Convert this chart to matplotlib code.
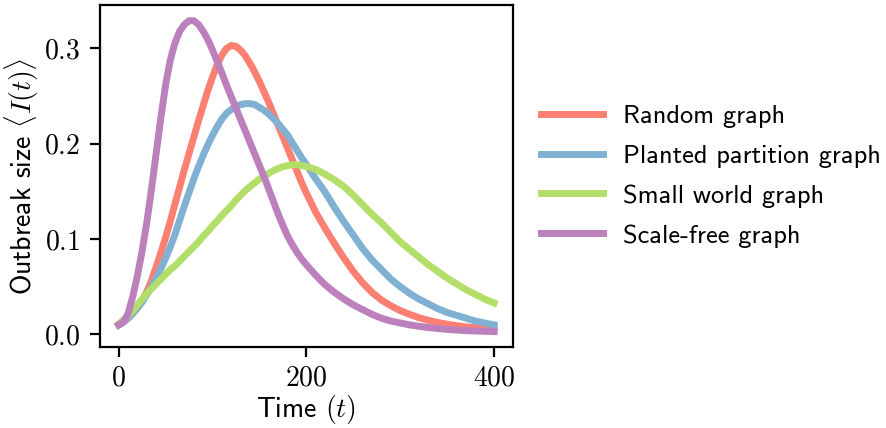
import numpy as np
import matplotlib
matplotlib.use("Agg")
import matplotlib.pyplot as plt
from matplotlib.ticker import FormatStrFormatter

plt.rcParams['font.family'] = ['cmss10', 'DejaVu Sans']
plt.rcParams['mathtext.fontset'] = 'cm'
plt.rcParams['axes.unicode_minus'] = False
plt.rcParams['font.size'] = 10

# time points
t = [0, 5, 10, 15, 20, 25, 30, 35, 40, 45, 50, 55, 60, 65, 70, 75, 80, 85,
     90, 95, 100, 105, 110, 115, 120, 125, 130, 135, 140, 145, 150, 155,
     160, 165, 170, 175, 180, 185, 190, 195, 200, 210, 220, 230, 240, 250,
     260, 270, 280, 290, 300, 310, 320, 330, 340, 350, 360, 370, 380, 390,
     400]

random_graph = [0.010, 0.013, 0.017, 0.022, 0.028, 0.036, 0.045, 0.057,
                0.071, 0.086, 0.102, 0.119, 0.137, 0.155, 0.173, 0.190,
                0.207, 0.224, 0.240, 0.256, 0.270, 0.283, 0.293, 0.300,
                0.303, 0.302, 0.298, 0.292, 0.284, 0.275, 0.265, 0.254,
                0.243, 0.231, 0.219, 0.207, 0.195, 0.183, 0.171, 0.159,
                0.148, 0.128, 0.111, 0.095, 0.080, 0.066, 0.054, 0.044,
                0.036, 0.030, 0.025, 0.021, 0.0175, 0.0148, 0.0125, 0.0107,
                0.0092, 0.008, 0.007, 0.0065, 0.006]

planted_partition = [0.010, 0.013, 0.017, 0.022, 0.028, 0.034, 0.042, 0.050,
                     0.059, 0.069, 0.080, 0.092, 0.105, 0.120, 0.135, 0.149,
                     0.163, 0.176, 0.188, 0.199, 0.209, 0.218, 0.226, 0.232,
                     0.236, 0.239, 0.241, 0.242, 0.242, 0.241, 0.238, 0.235,
                     0.231, 0.226, 0.221, 0.215, 0.209, 0.201, 0.193, 0.185,
                     0.178, 0.163, 0.149, 0.133, 0.118, 0.104, 0.090, 0.078,
                     0.068, 0.058, 0.050, 0.043, 0.037, 0.032, 0.027, 0.023,
                     0.020, 0.017, 0.014, 0.012, 0.010]

small_world = [0.011, 0.015, 0.020, 0.025, 0.031, 0.037, 0.043, 0.048,
               0.053, 0.058, 0.063, 0.068, 0.072, 0.077, 0.082, 0.087,
               0.092, 0.097, 0.103, 0.108, 0.114, 0.119, 0.125, 0.130,
               0.135, 0.141, 0.146, 0.151, 0.155, 0.159, 0.163, 0.166,
               0.169, 0.172, 0.174, 0.176, 0.177, 0.178, 0.178, 0.177,
               0.176, 0.173, 0.168, 0.162, 0.155, 0.146, 0.136, 0.126,
               0.117, 0.107, 0.097, 0.089, 0.081, 0.073, 0.066, 0.059,
               0.053, 0.047, 0.042, 0.037, 0.033]

scale_free = [0.010, 0.013, 0.022, 0.040, 0.062, 0.088, 0.118, 0.153,
              0.191, 0.228, 0.262, 0.288, 0.306, 0.318, 0.325, 0.329,
              0.329, 0.325, 0.318, 0.309, 0.298, 0.286, 0.274, 0.261,
              0.249, 0.237, 0.225, 0.213, 0.201, 0.189, 0.177, 0.165,
              0.152, 0.139, 0.126, 0.114, 0.103, 0.094, 0.086, 0.079,
              0.073, 0.062, 0.052, 0.044, 0.037, 0.031, 0.026, 0.021,
              0.017, 0.014, 0.012, 0.010, 0.0085, 0.0072, 0.0062, 0.0053,
              0.0046, 0.004, 0.0036, 0.0033, 0.003]

labels = ["Random graph", "Planted partition graph", "Small world graph",
          "Scale-free graph"]
colors = ["#fb8072", "#80b1d3", "#b3de69", "#bc80bd"]

fig = plt.figure(figsize=(887 / 200, 428 / 200), dpi=200)
ax = fig.add_axes([0.1127, 0.189, 0.4655, 0.799])

for ys, lab, c in zip([random_graph, planted_partition, small_world, scale_free],
                      labels, colors):
    ax.plot(t, ys, color=c, lw=2.5, label=lab, solid_joinstyle='round')

ax.set_xticks([0, 200, 400])
ax.set_yticks([0.0, 0.1, 0.2, 0.3])
ax.xaxis.set_major_formatter(FormatStrFormatter('$%d$'))
ax.yaxis.set_major_formatter(FormatStrFormatter('$%.1f$'))
ax.tick_params(axis='x', pad=3)
ax.set_xlabel(r"Time $(t)$", labelpad=1)
ax.set_ylabel(r"Outbreak size $\langle I(t)\rangle$", labelpad=1)

fig.legend(loc='center left', bbox_to_anchor=(528 / 887, 1 - 176 / 428),
           frameon=False, borderpad=0, fontsize=9.5, handlelength=2.35,
           handletextpad=0.75, labelspacing=0.62)

fig.savefig("out.png", dpi=200)
